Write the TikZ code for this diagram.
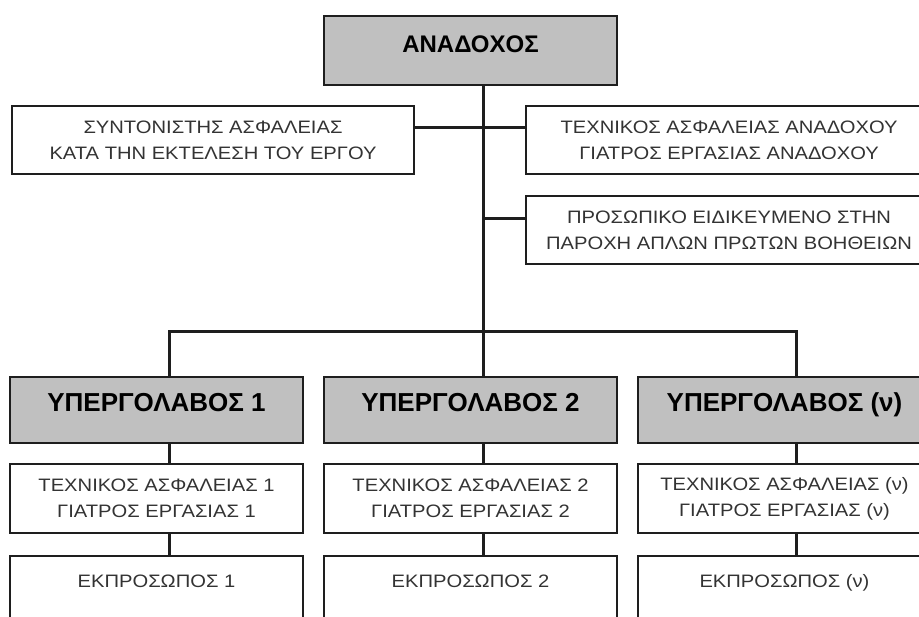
\documentclass[tikz,border=0pt]{standalone}
\usepackage{fontspec}
\setmainfont{Liberation Sans}
\newfontfamily\regfont[FakeStretch=1.12]{Liberation Sans}
\definecolor{boxgray}{HTML}{C0C0C0}
\definecolor{edge}{HTML}{1E1E1E}
\definecolor{txt}{HTML}{333333}
\tikzset{
  anybox/.style={draw=edge, line width=2pt, rectangle, align=center, inner sep=0pt},
  headbox/.style={anybox, fill=boxgray, text=black, font=\fontsize{26}{30}\selectfont\bfseries,
    text height=20pt, text depth=17pt, minimum width=293pt, minimum height=66pt},
  topbox/.style={headbox, font=\fontsize{24}{28}\selectfont\bfseries, text height=18pt, text depth=14pt, minimum height=69pt},
  infobox/.style={anybox, fill=white, text=txt, font=\regfont\fontsize{18}{26}\selectfont, minimum height=68pt},
  repbox/.style={anybox, fill=white, text=txt, font=\regfont\fontsize{18}{26}\selectfont,
    anchor=north, minimum width=293pt, text height=31pt, text depth=40pt},
  conn/.style={draw=edge, line width=3pt}
}
\begin{document}
\begin{tikzpicture}[x=1pt,y=-1pt]
\path[use as bounding box, clip] (0,0) rectangle (919,617);
\fill[white] (0,0) rectangle (919,617);
% connector junctions
\coordinate (j1) at (483,128);
\coordinate (j2) at (483,219);
\coordinate (bus) at (483,332);
\coordinate (bl) at (169,332);
\coordinate (br) at (796,332);
% top level
\node[topbox] (anadoxos) at (470.5,50.5) {ΑΝΑΔΟΧΟΣ};
\node[infobox, minimum width=402pt] (sa) at (213,140) {ΣΥΝΤΟΝΙΣΤΗΣ ΑΣΦΑΛΕΙΑΣ\\ΚΑΤΑ ΤΗΝ ΕΚΤΕΛΕΣΗ ΤΟΥ ΕΡΓΟΥ};
\node[infobox, minimum width=406pt] (r1) at (729,140) {ΤΕΧΝΙΚΟΣ ΑΣΦΑΛΕΙΑΣ ΑΝΑΔΟΧΟΥ\\ΓΙΑΤΡΟΣ ΕΡΓΑΣΙΑΣ ΑΝΑΔΟΧΟΥ};
\node[infobox, minimum width=406pt] (r2) at (729,230) {ΠΡΟΣΩΠΙΚΟ ΕΙΔΙΚΕΥΜΕΝΟ ΣΤΗΝ\\ΠΑΡΟΧΗ ΑΠΛΩΝ ΠΡΩΤΩΝ ΒΟΗΘΕΙΩΝ};
% subcontractors
\node[headbox] (g1) at (156.5,410) {ΥΠΕΡΓΟΛΑΒΟΣ 1};
\node[headbox] (g2) at (470.5,410) {ΥΠΕΡΓΟΛΑΒΟΣ 2};
\node[headbox] (g3) at (784.5,410) {ΥΠΕΡΓΟΛΑΒΟΣ (ν)};
\node[infobox, minimum width=293pt, minimum height=69pt] (m1) at (156.5,498.5) {ΤΕΧΝΙΚΟΣ ΑΣΦΑΛΕΙΑΣ 1\\ΓΙΑΤΡΟΣ ΕΡΓΑΣΙΑΣ 1};
\node[infobox, minimum width=293pt, minimum height=69pt] (m2) at (470.5,498.5) {ΤΕΧΝΙΚΟΣ ΑΣΦΑΛΕΙΑΣ 2\\ΓΙΑΤΡΟΣ ΕΡΓΑΣΙΑΣ 2};
\node[infobox, minimum width=293pt, minimum height=69pt] (m3) at (784.5,498.5) {ΤΕΧΝΙΚΟΣ ΑΣΦΑΛΕΙΑΣ (ν)\\ΓΙΑΤΡΟΣ ΕΡΓΑΣΙΑΣ (ν)};
\node[repbox] (b1) at (156.5,555) {ΕΚΠΡΟΣΩΠΟΣ 1};
\node[repbox] (b2) at (470.5,555) {ΕΚΠΡΟΣΩΠΟΣ 2};
\node[repbox] (b3) at (784.5,555) {ΕΚΠΡΟΣΩΠΟΣ (ν)};
% connectors
\draw[conn] (anadoxos.south -| bus) -- (bus);
\draw[conn] (sa.east |- j1) -- (r1.west |- j1);
\draw[conn] (j2) -- (r2.west |- j2);
\draw[conn, line cap=rect] (bl) -- (br);
\draw[conn] (bl) -- (bl |- g1.north);
\draw[conn] (bus) -- (bus |- g2.north);
\draw[conn] (br) -- (br |- g3.north);
\draw[conn] (g1.south -| bl) -- (m1.north -| bl);
\draw[conn] (g2.south -| bus) -- (m2.north -| bus);
\draw[conn] (g3.south -| br) -- (m3.north -| br);
\draw[conn] (m1.south -| bl) -- (b1.north -| bl);
\draw[conn] (m2.south -| bus) -- (b2.north -| bus);
\draw[conn] (m3.south -| br) -- (b3.north -| br);
\end{tikzpicture}
\end{document}
